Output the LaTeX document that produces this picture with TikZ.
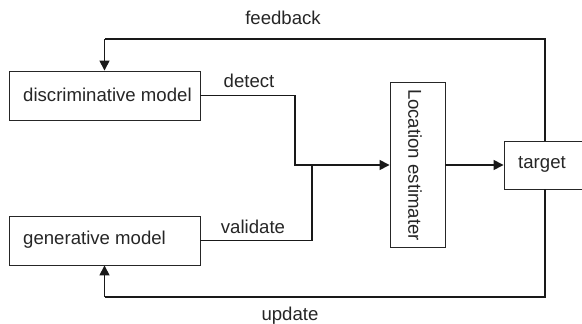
\documentclass[tikz,border=0pt]{standalone}
\usepackage{fontspec}
\setmainfont{Liberation Sans}
\usetikzlibrary{arrows.meta}
\begin{document}
\begin{tikzpicture}[x=1pt,y=-1pt,
  box/.style={draw=black!85, line width=0.9pt, rectangle, inner sep=0pt},
  lbl/.style={inner sep=0pt, text=black!85, font=\fontsize{18.6}{22}\selectfont},
  conn/.style={draw=black!90, line width=1.5pt},
  arr/.style={conn, -{Triangle[length=10pt,width=10pt]}}]
\clip (0,0) rectangle (582,324);
\fill[white] (0,0) rectangle (582,324);
% boxes
\node[box, minimum width=191pt, minimum height=49pt] (disc) at (104.5,95.5) {};
\node[lbl, anchor=west] (disct) at (23,95) {discriminative model};
\node[box, minimum width=191pt, minimum height=49pt] (gen) at (104.5,240.5) {};
\node[lbl, anchor=west] (gent) at (23,240) {generative model};
\node[box, minimum width=55pt, minimum height=165pt] (loc) at (417.5,165) {};
\node[lbl, rotate=-90] (loct) at (415,165) {Location estimater};
\node[box, minimum width=82pt, minimum height=48pt] (target) at (545,165) {};
\node[lbl, anchor=west] (targett) at (518,164) {target};
% junction coordinates
\coordinate (jd) at (295,130);
\coordinate (jv) at (312,165);
\coordinate (fb) at (104.5,39);
\coordinate (ub) at (104.5,297);
% connectors
\draw[arr] (disc.east) -| (jd) |- (loc.west);
\draw[conn] (gen.east) -| (jv);
\draw[arr] (loc.east) -- (target.west);
\draw[conn] (target.north) |- (fb);
\draw[arr] (fb) -- (disc.north);
\draw[conn] (target.south) |- (ub);
\draw[arr] (ub) -- (gen.south);
% labels
\node[lbl] (fbl) at (283,18) {feedback};
\node[lbl] (det) at (249,81) {detect};
\node[lbl] (val) at (253,227) {validate};
\node[lbl] (upd) at (290,316) {update};
\end{tikzpicture}
\end{document}
